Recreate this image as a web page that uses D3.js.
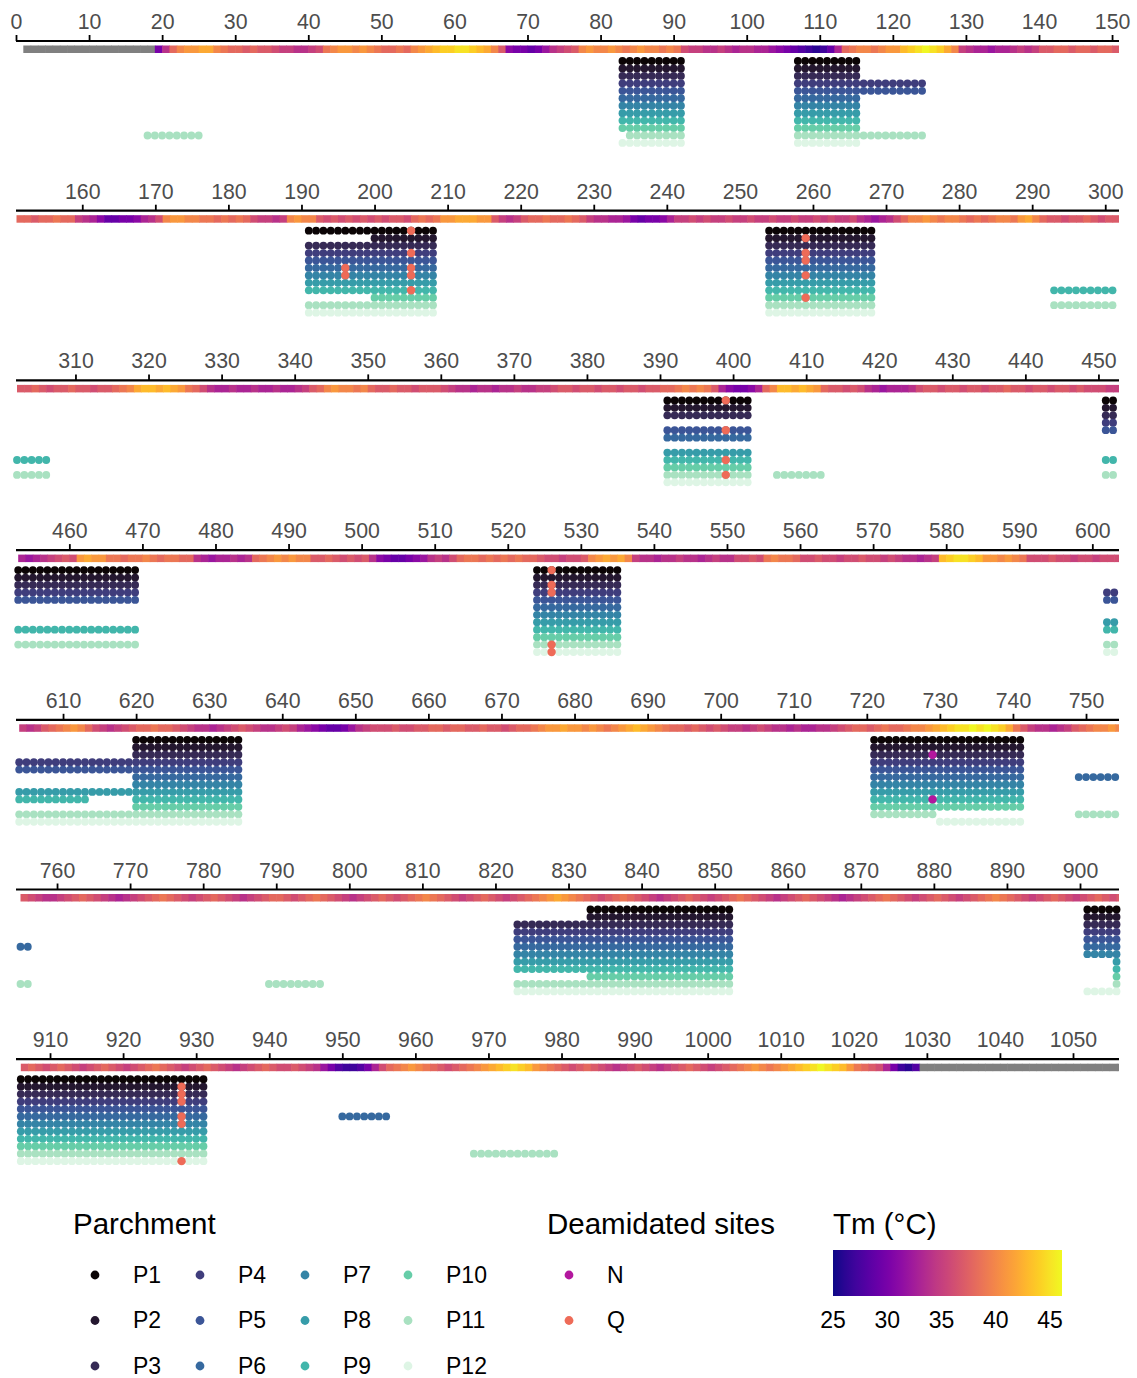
<!DOCTYPE html>
<html>
<head>
<meta charset="utf-8">
<script src="https://cdn.jsdelivr.net/npm/d3@7"></script>
<style>
  body { margin: 0; background: #fff; }
  svg { display: block; }
  text { font-family: "Liberation Sans", Arial, sans-serif; }
</style>
</head>
<body>
<svg id="chart" width="1137" height="1378"></svg>
<script>
// ---------------- data ----------------
// first residue of each 151-residue row of the sequence map
const panelStarts = [0, 151, 302, 453, 604, 755, 906];

const parchments = ["P1","P2","P3","P4","P5","P6","P7","P8","P9","P10","P11","P12"];

// melting temperature (°C) per residue; null = not predicted
const tmRow1 = [ // residues 1-150
  null,null,null,null,null,null,null,null,null,null,
  null,null,null,null,null,null,null,null,30,34,
  38,40,41,41,42,42,40,39,38,38,
  37,38,37,37,36,35,35,34,34,35,
  36,39,40,41,41,40,41,40,39,38,
  38,39,38,40,41,42,43,44,44,45,
  45,44,43,42,40,37,31,30,30,29,
  30,32,34,35,36,37,40,41,40,40,
  41,40,39,40,41,40,40,39,40,39,
  36,35,35,34,34,35,34,33,34,34,
  33,33,32,31,30,29,28,27,26,27,
  29,33,38,39,40,40,39,40,41,41,
  43,44,45,46,45,44,42,40,35,34,
  33,33,32,33,33,34,35,34,35,37,
  37,38,38,37,38,38,37,38,38,37
];
const tmRow2 = [ // residues 151-301
  38,38,37,38,38,39,38,38,35,34,
  33,31,29,29,30,30,31,33,34,36,
  40,41,41,40,40,39,39,38,39,38,
  39,38,36,35,35,34,35,40,41,40,
  40,37,36,37,36,37,36,37,36,37,
  36,37,37,36,38,39,38,39,41,41,
  42,42,42,41,41,37,35,34,35,37,
  38,38,39,38,38,39,38,37,35,34,
  34,33,33,32,30,29,30,30,31,33,
  35,35,36,35,36,35,35,36,35,35,
  36,35,35,36,35,35,36,35,35,36,
  35,36,35,35,36,34,33,32,33,34,
  36,38,40,40,41,40,39,40,40,39,
  38,39,38,39,40,40,39,41,42,40,
  38,37,37,36,37,37,38,37,36,37,
  37
];
const tmRow3 = [ // residues 302-452
  37,37,38,37,36,37,37,38,37,37,
  36,37,37,38,39,40,42,43,43,42,
  43,42,41,39,38,36,34,33,33,34,
  33,33,34,33,33,34,33,33,34,35,
  37,38,40,41,40,40,39,40,38,37,
  37,38,37,37,36,37,37,37,36,35,
  34,34,33,34,34,33,34,34,35,34,
  34,35,35,36,37,37,36,37,37,36,
  37,37,36,37,37,36,37,37,38,38,
  39,40,39,40,39,37,33,31,30,30,
  31,33,38,40,43,43,42,43,42,41,
  38,37,37,36,37,36,34,33,32,33,
  33,33,34,36,37,37,36,37,37,36,
  37,37,36,37,37,38,37,37,36,37,
  37,36,37,37,36,37,36,36,36,35,
  35
];
const tmRow4 = [ // residues 453-603
  33,32,33,34,35,36,37,36,41,42,
  41,41,39,39,38,39,39,40,39,38,
  39,39,38,38,34,33,32,33,33,34,
  33,34,38,39,40,41,40,41,40,40,
  37,37,38,37,36,37,36,37,34,31,
  30,29,29,30,31,32,34,35,34,36,
  38,39,39,38,39,38,39,38,39,38,
  38,37,36,36,35,36,36,37,40,41,
  42,41,42,40,35,34,34,33,34,34,
  35,34,34,33,34,35,34,34,36,36,
  37,36,39,40,39,39,38,36,36,37,
  36,36,35,36,36,37,36,36,35,36,
  35,34,34,33,34,35,43,44,45,45,
  44,43,41,41,40,41,40,39,36,36,
  36,37,36,36,35,36,36,35,36,36,
  36
];
const tmRow5 = [ // residues 604-754
  35,34,35,37,38,39,40,41,40,38,
  36,35,34,35,36,37,38,38,39,38,
  38,37,36,35,34,34,33,34,35,36,
  37,36,35,34,34,35,36,35,33,32,
  31,30,29,29,30,32,34,35,36,36,
  36,37,36,36,37,37,38,38,37,38,
  38,37,37,38,37,37,36,37,38,38,
  39,40,41,41,42,41,41,40,41,40,
  39,40,41,42,43,42,41,40,39,38,
  38,37,38,37,36,37,36,35,35,34,
  35,36,35,34,34,33,34,33,33,34,
  34,35,36,37,38,38,37,38,39,38,
  38,39,40,40,41,42,43,44,45,45,
  46,45,46,45,44,42,39,37,35,34,
  34,33,34,35,37,38,39,40,40,41,
  40
];
const tmRow6 = [ // residues 755-905
  37,36,35,34,34,35,36,37,38,37,
  36,35,34,33,34,35,36,37,38,39,
  38,37,36,35,36,37,38,37,36,35,
  34,35,36,37,38,38,37,36,37,38,
  39,38,37,36,35,34,35,36,37,38,
  37,36,37,38,39,40,39,38,37,36,
  35,36,37,38,37,36,35,36,37,38,
  39,40,41,42,41,40,39,38,37,36,
  37,38,39,38,37,36,35,34,35,36,
  37,38,37,36,35,36,37,38,39,38,
  37,36,35,34,35,36,37,38,37,36,
  35,34,33,34,35,36,37,38,39,38,
  37,36,35,36,37,38,37,36,35,36,
  37,38,39,40,39,38,37,36,35,36,
  37,38,37,36,35,36,37,38,37,36,
  37
];
const tmRow7 = [ // residues 906-1056
  37,38,37,36,37,38,37,36,35,36,
  37,38,37,36,35,36,37,38,39,38,
  37,36,35,36,37,38,37,36,35,34,
  35,36,37,38,37,36,36,37,36,35,
  34,32,30,28,27,27,28,30,33,36,
  38,39,40,41,40,39,38,37,36,37,
  38,39,40,41,42,43,44,45,44,43,
  41,40,39,38,37,36,37,38,37,36,
  35,34,35,36,37,36,35,34,35,36,
  37,38,37,36,35,36,37,38,39,40,
  41,40,39,40,41,42,43,44,45,46,
  45,44,43,41,39,38,37,36,33,30,
  27,26,28,null,null,null,null,null,null,null,
  null,null,null,null,null,null,null,null,null,null,
  null,null,null,null,null,null,null,null,null,null,
  null
];

// peptide coverage: [parchment, first residue, last residue]
const coverage = [
  ["P11",18,25],
  ["P1",83,91],["P2",83,91],["P3",83,91],["P4",83,91],["P5",83,91],["P6",83,91],
  ["P7",83,91],["P8",83,91],["P9",83,91],["P10",83,91],["P11",84,91],["P12",83,91],
  ["P1",107,115],["P2",107,115],["P3",107,115],["P4",107,124],["P5",107,124],["P6",107,115],
  ["P7",107,115],["P8",107,115],["P9",107,115],["P10",107,115],["P11",107,124],["P12",107,115],
  ["P1",191,208],["P2",200,208],["P3",191,208],["P4",191,208],["P5",191,208],["P6",191,208],
  ["P7",191,208],["P8",191,208],["P9",191,208],["P10",200,208],["P11",191,208],["P12",191,208],
  ["P1",254,268],["P2",254,268],["P3",254,268],["P4",254,268],["P5",254,268],["P6",254,268],
  ["P7",254,268],["P8",254,268],["P9",254,268],["P10",254,268],["P11",254,268],["P12",254,268],
  ["P9",293,306],["P11",293,306],
  ["P1",391,402],["P2",391,402],["P3",391,402],["P5",391,402],["P6",391,402],
  ["P8",391,402],["P9",391,402],["P10",391,402],["P11",391,402],["P12",391,402],
  ["P11",406,412],
  ["P1",451,469],["P2",451,469],["P3",451,469],["P4",451,469],["P5",451,469],
  ["P9",451,469],["P11",451,469],
  ["P1",524,535],["P2",524,535],["P3",524,535],["P4",524,535],["P5",524,535],["P6",524,535],
  ["P7",524,535],["P8",524,535],["P9",524,535],["P10",524,535],["P11",524,535],["P12",524,535],
  ["P4",602,634],["P5",602,634],["P8",602,634],["P9",602,613],["P11",602,634],["P12",602,634],
  ["P1",620,634],["P2",620,634],["P3",620,634],["P6",620,634],["P7",620,634],["P9",620,634],["P10",620,634],
  ["P1",721,741],["P2",721,741],["P3",721,741],["P4",721,741],["P5",721,741],["P6",721,741],
  ["P7",721,741],["P8",721,741],["P9",721,741],["P10",721,741],["P11",721,729],["P12",730,741],
  ["P6",749,756],["P11",749,756],
  ["P11",789,796],
  ["P1",833,852],["P2",833,852],["P3",823,852],["P4",823,852],["P5",823,852],["P6",823,852],
  ["P7",823,852],["P8",823,852],["P9",823,852],["P10",833,852],["P11",823,852],["P12",823,852],
  ["P1",901,931],["P2",901,931],["P3",901,931],["P4",901,931],["P5",901,931],["P6",901,931],
  ["P7",901,931],["P8",905,931],["P9",905,931],["P10",905,931],["P11",905,931],["P12",901,931],
  ["P6",950,956],
  ["P11",968,979]
];

// deamidated sites: [parchment, residue, amino acid]
const deamidation = [
  ["P6",196,"Q"],["P7",196,"Q"],
  ["P1",205,"Q"],["P4",205,"Q"],["P6",205,"Q"],["P7",205,"Q"],["P9",205,"Q"],
  ["P2",259,"Q"],["P4",259,"Q"],["P5",259,"Q"],["P7",259,"Q"],["P10",259,"Q"],
  ["P1",399,"Q"],["P5",399,"Q"],["P9",399,"Q"],["P11",399,"Q"],
  ["P1",526,"Q"],["P3",526,"Q"],["P4",526,"Q"],["P11",526,"Q"],["P12",526,"Q"],
  ["P3",729,"N"],["P9",729,"N"],
  ["P2",928,"Q"],["P3",928,"Q"],["P4",928,"Q"],["P6",928,"Q"],["P7",928,"Q"],["P12",928,"Q"]
];

const tmLegendTicks = [25, 30, 35, 40, 45];
const siteTypes = ["N", "Q"];

// ---------------- styling ----------------
const parchmentColors = ["#0b0405","#24172f","#362a55","#3f3d7c","#3b5597","#36699f",
                         "#3484a6","#369ca9","#42b6ab","#66cda8","#a9e1c1","#def5e5"];
const siteColors = { N: "#b3179e", Q: "#ee6b58" };

const svg = d3.select("#chart");
const rowHeight = 169.7;
const axisY0 = 41;
const step = 7.307;                       // pixels per residue
const panelLeft = [16, 16.5, 17, 18.2, 19.2, 20.5, 20.8];
const lineLeft = 16, lineRight = 1119;

const tmColor = d3.scaleSequential(d3.interpolatePlasma).domain([25, 46.1]);
const tmRows = [tmRow1, tmRow2, tmRow3, tmRow4, tmRow5, tmRow6, tmRow7];
const tmFirst = [1, 151, 302, 453, 604, 755, 906];

const xScales = panelStarts.map((s, i) =>
  d3.scaleLinear().domain([s, s + 151]).range([panelLeft[i], panelLeft[i] + 151 * step]));

function panelOf(r) {
  let p = 0;
  for (let i = 0; i < panelStarts.length; i++) if (r >= panelStarts[i]) p = i;
  return p;
}
const rowY = d3.scalePoint().domain(parchments).range([0, 11 * 7.45]);

svg.append("defs").append("clipPath").attr("id", "panelClip")
  .append("rect").attr("x", lineLeft).attr("y", -20).attr("width", lineRight - lineLeft).attr("height", 200);

panelStarts.forEach((start, p) => {
  const x = xScales[p];
  const ay = axisY0 + p * rowHeight;
  const g = svg.append("g").attr("transform", `translate(0,${ay})`);

  // heat strip of melting temperature
  const strip = g.append("g").attr("clip-path", "url(#panelClip)");
  tmRows[p].forEach((v, k) => {
    const r = tmFirst[p] + k;
    strip.append("rect")
      .attr("x", x(r)).attr("y", 4.5)
      .attr("width", step + 0.6).attr("height", 7.5)
      .attr("fill", v === null ? "#808080" : tmColor(v));
  });

  // axis
  const ticks = d3.range(Math.ceil(start / 10) * 10, start + 151, 10);
  const axis = d3.axisTop(x).tickValues(ticks).tickSize(6).tickSizeOuter(0).tickFormat(d3.format("d"));
  const ag = g.append("g").call(axis);
  ag.select(".domain").remove();
  ag.selectAll(".tick line").attr("stroke", "#000").attr("stroke-width", 1.8);
  ag.selectAll(".tick text").attr("fill", "#4d4d4d").attr("font-size", 21.3)
    .attr("y", -12).style("font-family", '"Liberation Sans", Arial, sans-serif');
  g.append("line").attr("x1", lineLeft).attr("x2", lineRight).attr("y1", 0).attr("y2", 0)
    .attr("stroke", "#000").attr("stroke-width", 2.2);
});

// coverage dots
const dotLayer = svg.append("g");
coverage.forEach(([pc, a, b]) => {
  for (let r = a; r <= b; r++) {
    const p = panelOf(r);
    dotLayer.append("circle")
      .attr("cx", xScales[p](r))
      .attr("cy", axisY0 + p * rowHeight + 20 + rowY(pc))
      .attr("r", 3.9)
      .attr("fill", parchmentColors[parchments.indexOf(pc)]);
  }
});

// deamidated sites
deamidation.forEach(([pc, r, aa]) => {
  const p = panelOf(r);
  svg.append("circle")
    .attr("cx", xScales[p](r))
    .attr("cy", axisY0 + p * rowHeight + 20 + rowY(pc))
    .attr("r", 4.2)
    .attr("fill", siteColors[aa]);
});

// ---------------- legends ----------------
const titleSize = 29.5, labelSize = 23;
const legendRows = [1275, 1320.5, 1366];
const lg = svg.append("g");
lg.append("text").attr("x", 73).attr("y", 1234).attr("font-size", titleSize).text("Parchment");
parchments.forEach((pc, i) => {
  const col = Math.floor(i / 3), row = i % 3;
  const kx = [95, 200, 305, 408][col], ky = legendRows[row];
  lg.append("circle").attr("cx", kx).attr("cy", ky).attr("r", 4.4).attr("fill", parchmentColors[i]);
  lg.append("text").attr("x", kx + 38).attr("y", ky + 7.5).attr("font-size", labelSize).text(pc);
});

lg.append("text").attr("x", 547).attr("y", 1234).attr("font-size", titleSize).text("Deamidated sites");
siteTypes.forEach((s, i) => {
  const ky = legendRows[i];
  lg.append("circle").attr("cx", 569).attr("cy", ky).attr("r", 4.4).attr("fill", siteColors[s]);
  lg.append("text").attr("x", 607).attr("y", ky + 7.5).attr("font-size", labelSize).text(s);
});

lg.append("text").attr("x", 833).attr("y", 1234).attr("font-size", titleSize).text("Tm (°C)");
const barX = d3.scaleLinear().domain([25, 46.1]).range([833, 1062]);
const grad = svg.select("defs").append("linearGradient").attr("id", "tmGrad");
d3.range(0, 1.0001, 0.05).forEach(t => {
  grad.append("stop").attr("offset", t).attr("stop-color", tmColor(25 + t * 21.1));
});
lg.append("rect").attr("x", 833).attr("y", 1250).attr("width", 229).attr("height", 46).attr("fill", "url(#tmGrad)");
tmLegendTicks.forEach(t => {
  lg.append("text").attr("x", barX(t)).attr("y", 1328).attr("font-size", labelSize)
    .attr("text-anchor", "middle").text(t);
});
</script>
</body>
</html>
